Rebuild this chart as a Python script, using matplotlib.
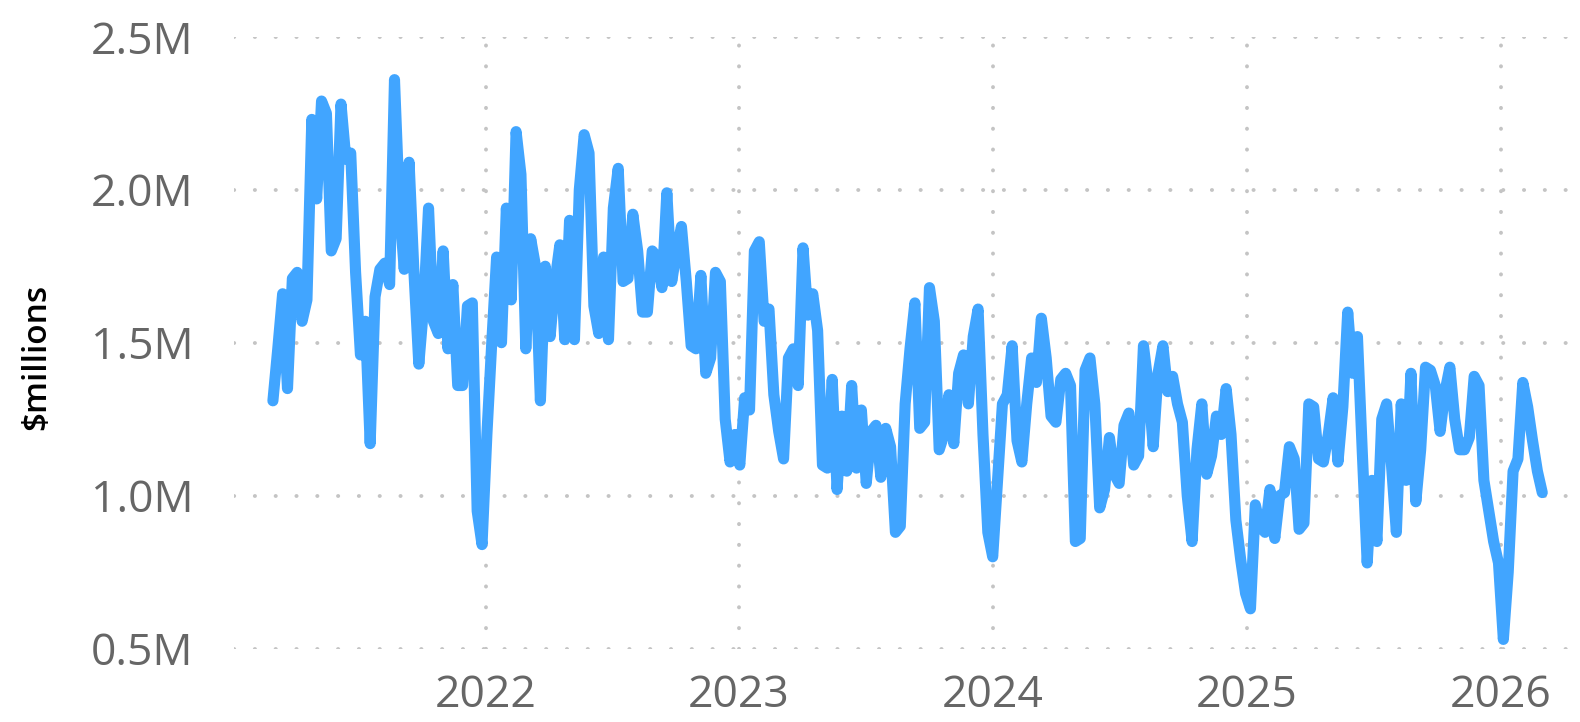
import pandas as pd
import numpy as np
import matplotlib.pyplot as plt
import matplotlib.dates as mdates
from matplotlib.ticker import FuncFormatter

# weekly values, in $ millions
inicio = '2021-03-01'
valores = [
    1.31, 1.48, 1.66, 1.35, 1.71, 1.73, 1.57, 1.64, 2.23, 1.97,
    2.29, 2.25, 1.80, 1.84, 2.28, 2.10, 2.12, 1.73, 1.46, 1.57,
    1.17, 1.65, 1.74, 1.76, 1.69, 2.36, 1.95, 1.74, 2.09, 1.73,
    1.43, 1.62, 1.94, 1.57, 1.53, 1.80, 1.48, 1.69, 1.36, 1.36,
    1.62, 1.63, 0.95, 0.84, 1.20, 1.50, 1.78, 1.50, 1.94, 1.64,
    2.19, 2.05, 1.48, 1.84, 1.75, 1.31, 1.75, 1.52, 1.70, 1.82,
    1.51, 1.90, 1.51, 2.00, 2.18, 2.12, 1.62, 1.53, 1.78, 1.51,
    1.94, 2.07, 1.70, 1.71, 1.92, 1.80, 1.60, 1.60, 1.80, 1.78,
    1.68, 1.99, 1.70, 1.80, 1.88, 1.70, 1.49, 1.48, 1.72, 1.40,
    1.45, 1.73, 1.70, 1.25, 1.11, 1.20, 1.10, 1.32, 1.28, 1.80,
    1.83, 1.57, 1.61, 1.33, 1.21, 1.12, 1.45, 1.48, 1.36, 1.81,
    1.59, 1.66, 1.54, 1.10, 1.09, 1.38, 1.02, 1.26, 1.08, 1.36,
    1.09, 1.28, 1.04, 1.21, 1.23, 1.06, 1.22, 1.16, 0.88, 0.90,
    1.30, 1.48, 1.63, 1.22, 1.24, 1.68, 1.57, 1.15, 1.20, 1.33,
    1.17, 1.40, 1.46, 1.30, 1.52, 1.61, 1.20, 0.88, 0.80, 1.05,
    1.30, 1.33, 1.49, 1.18, 1.11, 1.30, 1.45, 1.37, 1.58, 1.45,
    1.26, 1.24, 1.38, 1.40, 1.36, 0.85, 0.86, 1.41, 1.45, 1.30,
    0.96, 1.02, 1.19, 1.07, 1.04, 1.23, 1.27, 1.10, 1.13, 1.49,
    1.36, 1.16, 1.40, 1.49, 1.34, 1.39, 1.30, 1.24, 1.00, 0.85,
    1.15, 1.30, 1.07, 1.13, 1.26, 1.20, 1.35, 1.20, 0.92, 0.79,
    0.68, 0.63, 0.97, 0.90, 0.88, 1.02, 0.86, 1.00, 1.01, 1.16,
    1.12, 0.89, 0.91, 1.30, 1.29, 1.12, 1.11, 1.20, 1.32, 1.11,
    1.29, 1.60, 1.40, 1.52, 1.14, 0.78, 1.05, 0.85, 1.25, 1.30,
    1.10, 0.88, 1.30, 1.05, 1.40, 0.98, 1.15, 1.42, 1.41, 1.36,
    1.21, 1.34, 1.42, 1.25, 1.15, 1.15, 1.19, 1.39, 1.36, 1.05,
    0.95, 0.85, 0.78, 0.53, 0.75, 1.08, 1.12, 1.37, 1.29, 1.18,
    1.08, 1.01,
]
anos = [2022, 2023, 2024, 2025, 2026]
yticks = [0.5, 1.0, 1.5, 2.0, 2.5]

s = pd.Series(valores, index=pd.date_range(inicio, periods=len(valores), freq='7D'))

plt.rcParams['font.family'] = ['Open Sans', 'DejaVu Sans']

fig = plt.figure(figsize=(15.8, 7.22), dpi=100)
ax = fig.add_axes([234 / 1580, 1 - 648.6 / 722, (1577 - 234) / 1580, (648.6 - 36.8) / 722])

ax.plot(s.index, s.values, color='#41A5FF', linewidth=8,
        solid_joinstyle='round', solid_capstyle='round', zorder=3)

ax.set_ylim(0.5, 2.5)
ax.set_yticks(yticks)
ax.yaxis.set_major_formatter(FuncFormatter(lambda v, p: '{:.1f}M'.format(v)))
ax.set_xlim(pd.Timestamp('2021-01-04'), pd.Timestamp('2026-04-21'))
ax.set_xticks([pd.Timestamp(str(a) + '-01-01') for a in anos])
ax.xaxis.set_major_formatter(mdates.DateFormatter('%Y'))

# dotted grid
ax.grid(True, color='#c4c4c4', linewidth=2.8, linestyle=(0, (0.05, 5.3)),
        dash_capstyle='round', zorder=0)
for sp in ax.spines.values():
    sp.set_visible(False)
ax.tick_params(axis='y', length=0, pad=29, labelsize=32, labelcolor='#666666')
ax.tick_params(axis='x', length=0, pad=18, labelsize=32, labelcolor='#666666')

fig.text(37 / 1580, 1 - 357 / 722, '$millions', rotation=90, ha='center', va='center',
         fontsize=24, fontweight='semibold', color='black')

fig.savefig('out.png', dpi=100)
